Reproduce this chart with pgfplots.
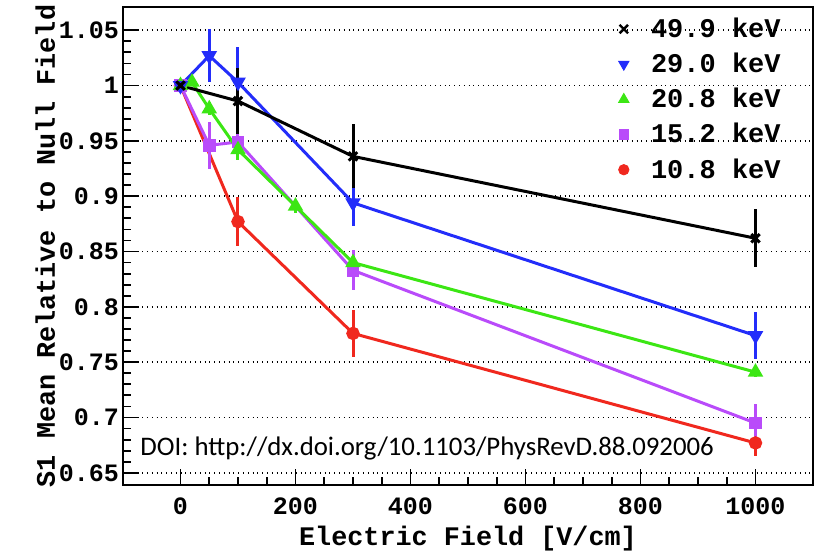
\documentclass[border=0pt]{standalone}
\usepackage{fontspec}
\setmainfont{Liberation Serif}
\setmonofont{Liberation Mono}
\newfontfamily\doifont{Carlito}
\usepackage{pgfplots}
\pgfplotsset{compat=1.18}
\definecolor{cblue}{RGB}{35,45,250}
\definecolor{cgreen}{RGB}{60,230,20}
\definecolor{cpurple}{RGB}{185,75,250}
\definecolor{cred}{RGB}{240,40,30}
\begin{document}
\begin{tikzpicture}
\useasboundingbox (-61.5pt,-33.5pt) rectangle (346pt,242.5pt);
\begin{axis}[
  scale only axis,
  width=345pt, height=239pt,
  xmin=-100, xmax=1100,
  ymin=0.639, ymax=1.071,
  axis line style={line width=1.3pt},
  xtick={0,200,400,600,800,1000},
  ytick={0.65,0.7,0.75,0.8,0.85,0.9,0.95,1,1.05},
  yticklabels={0.65,0.7,0.75,0.8,0.85,0.9,0.95,1,1.05},
  minor x tick num=3,
  minor y tick num=4,
  tick align=inside,
  xtick pos=left, ytick pos=left,
  major tick length=8pt, minor tick length=4pt,
  every tick/.style={black, line width=0.9pt},
  ymajorgrids,
  major grid style={black, dotted, line width=0.9pt},
  /pgf/number format/1000 sep={},
  /pgf/number format/assume math mode=true,
  ticklabel style={font=\fontsize{12.5}{14}\selectfont\ttfamily\bfseries},
  xticklabel style={yshift=-3pt},
  yticklabel style={xshift=1.5pt},
  xlabel={Electric Field [V/cm]},
  ylabel={S1 Mean Relative to Null Field},
  label style={font=\fontsize{13.4}{15}\selectfont\ttfamily\bfseries},
  xlabel style={yshift=1.5pt},
  ylabel style={yshift=-5pt},
  error bars/y dir=both, error bars/y explicit,
  error bars/error mark=none,
  error bars/error bar style={line width=1.5pt},
  legend style={draw=none, fill=none, at={(0.709,0.995)}, anchor=north west,
    font=\fontsize{13.5}{15}\selectfont\ttfamily\bfseries, row sep=2.3pt,
    /tikz/every odd column/.append style={column sep=9pt}},
  legend cell align=left,
]
\addplot[cred, line width=1.5pt, mark=*, mark size=2.6pt, forget plot] coordinates {
 (0,1.000) +- (0,0)
 (100,0.877) +- (0,0.022)
 (300,0.776) +- (0,0.021)
 (1000,0.677) +- (0,0.012)
};
\addplot[cpurple, line width=1.5pt, mark=square*, mark size=2.4pt, forget plot] coordinates {
 (0,1.000) +- (0,0)
 (50,0.946) +- (0,0.021)
 (100,0.949) +- (0,0.013)
 (300,0.833) +- (0,0.018)
 (1000,0.695) +- (0,0.017)
};
\addplot[cgreen, line width=1.5pt, mark=triangle*, mark size=3pt, forget plot] coordinates {
 (0,1.000) +- (0,0)
 (20,1.003) +- (0,0.003)
 (50,0.979) +- (0,0.006)
 (100,0.942) +- (0,0.009)
 (200,0.891) +- (0,0.006)
 (300,0.840) +- (0,0.006)
 (1000,0.741) +- (0,0.004)
};
\addplot[cblue, line width=1.5pt, mark=triangle*, mark options={rotate=180}, mark size=3pt, forget plot] coordinates {
 (0,1.000) +- (0,0)
 (50,1.027) +- (0,0.024)
 (100,1.003) +- (0,0.032)
 (300,0.894) +- (0,0.021)
 (1000,0.774) +- (0,0.021)
};
\addplot[black, line width=1.5pt, mark=x, mark size=3pt, forget plot] coordinates {
 (0,1.000) +- (0,0)
 (100,0.986) +- (0,0.030)
 (300,0.936) +- (0,0.029)
 (1000,0.862) +- (0,0.026)
};
\addlegendimage{only marks, black, mark=x, mark size=3pt, line width=1.2pt}
\addlegendentry{49.9 keV}
\addlegendimage{only marks, cblue, mark=triangle*, mark options={rotate=180}, mark size=3pt}
\addlegendentry{29.0 keV}
\addlegendimage{only marks, cgreen, mark=triangle*, mark size=3pt}
\addlegendentry{20.8 keV}
\addlegendimage{only marks, cpurple, mark=square*, mark size=2.4pt}
\addlegendentry{15.2 keV}
\addlegendimage{only marks, cred, mark=*, mark size=2.6pt}
\addlegendentry{10.8 keV}
\node[anchor=west, inner sep=0pt, font=\doifont\fontsize{13.4}{15}\selectfont] at (rel axis cs:0.0246,0.0774) {DOI: http://dx.doi.org/10.1103/PhysRevD.88.092006};
\end{axis}
\end{tikzpicture}
\end{document}
